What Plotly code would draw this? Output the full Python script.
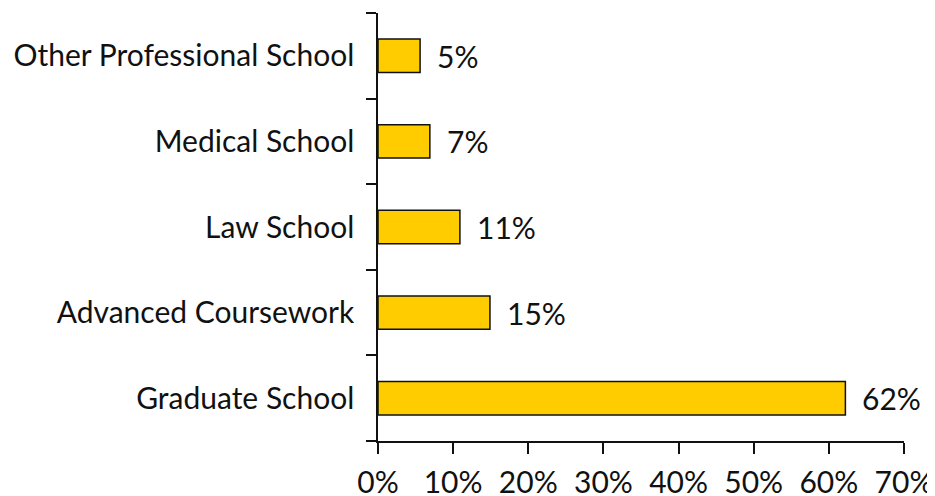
import plotly.graph_objects as go

categories = ["Graduate School", "Advanced Coursework", "Law School", "Medical School", "Other Professional School"]
values = [62.2, 14.9, 10.9, 6.9, 5.6]
labels = ["62%", "15%", "11%", "7%", "5%"]
tick_vals = [0, 10, 20, 30, 40, 50, 60, 70]
tick_text = ["0%", "10%", "20%", "30%", "40%", "50%", "60%", "70%"]

FONT = "Lato, 'Gill Sans', sans-serif"
FS = 30
OFF = 8  # page body margin

fig = go.Figure()
fig.add_trace(go.Bar(
    y=categories, x=values, orientation="h",
    marker=dict(color="#FFCC00", line=dict(color="#111111", width=1.5)),
    width=0.39, hoverinfo="skip",
))
for c, v, t in zip(categories, values, labels):
    fig.add_annotation(x=v, y=c, text=t, showarrow=False, xanchor="left",
                       xshift=15, font=dict(size=FS, color="#111111", family=FONT))

fig.update_layout(
    width=935 - OFF, height=496 - OFF,
    margin=dict(l=378 - OFF, r=31, t=13 - OFF, b=55, autoexpand=False),
    plot_bgcolor="white", paper_bgcolor="white",
    font=dict(family=FONT, size=FS, color="#111111"),
    showlegend=False,
    xaxis=dict(range=[0, 70], tickvals=tick_vals, ticktext=tick_text,
               showgrid=False, zeroline=False, showline=True, linecolor="#111111", linewidth=1.5,
               ticks="outside", ticklen=11, tickcolor="#111111", tickwidth=1.5,
               tickfont=dict(size=FS), automargin=False, ticklabelstandoff=3, fixedrange=True),
    yaxis=dict(showgrid=False, zeroline=False, showline=True, linecolor="#111111", linewidth=1.5,
               ticks="outside", ticklen=10, tickcolor="#111111", tickwidth=1.5,
               tickson="boundaries", tickfont=dict(size=FS), range=[-0.5, 4.5],
               automargin=False, ticklabelstandoff=16, fixedrange=True),
)
fig.write_html("out.html")
